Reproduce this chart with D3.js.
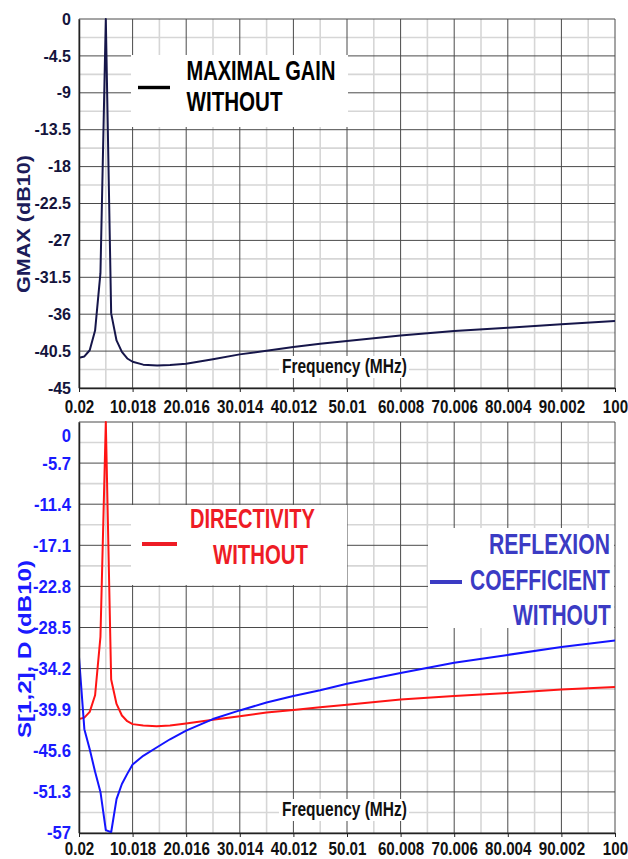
<!DOCTYPE html>
<html>
<head>
<meta charset="utf-8">
<script src="https://cdn.jsdelivr.net/npm/d3@7"></script>
<style>
  body { margin: 0; background: #fff; }
  text { font-family: "Liberation Sans", Arial, sans-serif; font-weight: bold; }
</style>
</head>
<body>
<script>
// frequency axis (MHz)
var xTickLabels = ["0.02", "10.018", "20.016", "30.014", "40.012", "50.01", "60.008", "70.006", "80.004", "90.002", "100"];

// upper panel: GMAX
var gmaxTickLabels = ["0", "-4.5", "-9", "-13.5", "-18", "-22.5", "-27", "-31.5", "-36", "-40.5", "-45"];
var gmaxFreq = [0.02, 1.02, 2.02, 3.02, 4.02, 5.02, 6.02, 7.02, 8.02, 9.02, 10.02, 12, 14.6, 17, 20, 25, 30, 35, 40, 45, 50, 60, 70, 80, 90, 100];
var gmaxDb = [-41.3, -41.15, -40.4, -38.0, -31.0, 0, -35.9, -39.2, -40.6, -41.4, -41.8, -42.15, -42.25, -42.2, -42.05, -41.5, -40.9, -40.45, -40.0, -39.6, -39.28, -38.6, -38.06, -37.65, -37.24, -36.84];

// lower panel: directivity and reflexion coefficient
var sTickLabels = ["0", "-5.7", "-11.4", "-17.1", "-22.8", "-28.5", "-34.2", "-39.9", "-45.6", "-51.3", "-57"];
var dirFreq = [0.02, 1.02, 2.02, 3.02, 4.02, 5.02, 6.02, 7.02, 8.02, 9.02, 10.02, 12, 14.5, 17, 20, 25, 30, 35, 40, 45, 50, 60, 70, 80, 90, 100];
var dirDb = [-41.2, -41.0, -40.2, -37.9, -29.8, 0, -35.7, -39.1, -40.7, -41.5, -41.9, -42.1, -42.2, -42.1, -41.8, -41.3, -40.8, -40.3, -39.95, -39.55, -39.2, -38.5, -38.0, -37.6, -37.1, -36.75];
var refFreq = [0.02, 1.02, 2.02, 3.02, 4.02, 5.02, 6.02, 7.02, 8.02, 9.02, 10.02, 12, 14.8, 17, 20, 25, 30, 35, 40, 45, 50, 60, 70, 80, 90, 100];
var refDb = [-32.6, -42.6, -45.4, -48.5, -51.3, -56.6, -56.9, -52.3, -50.2, -48.8, -47.5, -46.3, -45.0, -44.0, -42.8, -41.2, -40.0, -38.9, -38.0, -37.2, -36.3, -34.8, -33.4, -32.3, -31.2, -30.3];

var svg = d3.select("body").append("svg")
    .attr("width", 628)
    .attr("height", 859);

var xTicks = xTickLabels.map(Number);

function midpoints(arr) {
  var out = [];
  for (var i = 0; i < arr.length - 1; i++) out.push((arr[i] + arr[i + 1]) / 2);
  return out;
}

// squeeze a text horizontally to a given width (left edge at x)
function squeeze(sel, x, y, width) {
  var len = sel.node().getComputedTextLength();
  sel.attr("x", 0).attr("y", 0)
    .attr("transform", "translate(" + x + "," + y + ") scale(" + (width / len) + ",1)");
}

function drawPanel(p) {
  var x = d3.scaleLinear().domain([0.02, 100]).range([p.left, p.right]);
  var yTicks = p.yLabels.map(Number);
  var y = d3.scaleLinear().domain([0, yTicks[yTicks.length - 1]]).range([p.top, p.bottom]);
  var g = svg.append("g");

  // minor grid
  midpoints(xTicks).forEach(function(v) {
    g.append("line").attr("x1", x(v)).attr("x2", x(v)).attr("y1", p.top).attr("y2", p.bottom)
      .attr("stroke", "#d6d6d6").attr("stroke-width", 1.6);
  });
  midpoints(yTicks).forEach(function(v) {
    g.append("line").attr("x1", p.left).attr("x2", p.right).attr("y1", y(v)).attr("y2", y(v))
      .attr("stroke", "#d6d6d6").attr("stroke-width", 1.6);
  });
  // major grid
  xTicks.forEach(function(v) {
    g.append("line").attr("x1", x(v)).attr("x2", x(v)).attr("y1", p.top).attr("y2", p.bottom)
      .attr("stroke", "#4a4a4a").attr("stroke-width", 1);
  });
  yTicks.forEach(function(v) {
    g.append("line").attr("x1", p.left).attr("x2", p.right).attr("y1", y(v)).attr("y2", y(v))
      .attr("stroke", "#4a4a4a").attr("stroke-width", 1);
  });

  // white boxes of the legends sit on top of the grid
  p.legends.forEach(function(L) {
    g.append("rect").attr("x", L.box[0]).attr("y", L.box[1])
      .attr("width", L.box[2] - L.box[0]).attr("height", L.box[3] - L.box[1])
      .attr("fill", "#fff");
  });

  // frequency label with white background
  g.append("rect").attr("x", 279).attr("y", p.freqY - 17).attr("width", 130).attr("height", 22).attr("fill", "#fff");
  var ft = g.append("text").attr("font-size", 20).attr("fill", "#111").text("Frequency (MHz)");
  squeeze(ft, 282, p.freqY, 125);

  // curves
  var clipId = "clip" + p.top;
  svg.append("clipPath").attr("id", clipId).append("rect")
    .attr("x", p.left).attr("y", p.top - 1).attr("width", p.right - p.left).attr("height", p.bottom - p.top + 1);
  var line = d3.line().x(function(d) { return x(d[0]); }).y(function(d) { return y(d[1]); });
  p.series.forEach(function(s) {
    g.append("path")
      .datum(d3.zip(s.f, s.v))
      .attr("clip-path", "url(#" + clipId + ")")
      .attr("fill", "none")
      .attr("stroke", s.color)
      .attr("stroke-width", 2)
      .attr("stroke-linejoin", "round")
      .attr("d", line);
  });

  // axes
  var ax = g.append("g").attr("transform", "translate(" + p.left + ",0)")
    .call(d3.axisLeft(y).tickValues(yTicks).tickFormat(function(d, i) { return p.yLabels[i]; })
      .tickSize(0).tickSizeOuter(0).tickPadding(8));
  ax.select(".domain").attr("stroke", "#222").attr("stroke-width", 1.5);
  ax.selectAll("text")
    .attr("font-size", p.yFont).attr("fill", p.yColor)
    .attr("font-family", null)
    .attr("transform", "scale(" + p.yScaleX + ",1)")
    .attr("x", -8 / p.yScaleX);
  if (p.firstDy) ax.select(".tick text").attr("dy", p.firstDy);

  var bx = g.append("g").attr("transform", "translate(0," + p.bottom + ")")
    .call(d3.axisBottom(x).tickValues(xTicks).tickFormat(function(d, i) { return xTickLabels[i]; })
      .tickSize(4).tickSizeOuter(0).tickPadding(p.xPad));
  bx.select(".domain").attr("stroke", "#222").attr("stroke-width", 1.5);
  bx.selectAll(".tick line").attr("stroke", "#222");
  bx.selectAll("text")
    .attr("font-size", 18.5).attr("fill", "#111")
    .attr("font-family", null)
    .attr("transform", "scale(0.82,1)");

  // y title
  g.append("text")
    .attr("transform", "translate(" + p.titleX + "," + p.titleY + ") rotate(-90)")
    .attr("text-anchor", "middle")
    .attr("font-size", 19)
    .attr("textLength", p.titleLen).attr("lengthAdjust", "spacingAndGlyphs")
    .attr("fill", p.titleColor)
    .text(p.title);

  // legends
  p.legends.forEach(function(L) {
    g.append("line").attr("x1", L.line[0]).attr("x2", L.line[1]).attr("y1", L.line[2]).attr("y2", L.line[2])
      .attr("stroke", L.color).attr("stroke-width", L.lineW);
    L.rows.forEach(function(r) {
      var t = g.append("text")
        .attr("font-size", L.font)
        .attr("fill", L.color)
        .text(r[0]);
      squeeze(t, r[1], r[2], r[3]);
    });
  });
}

drawPanel({
  top: 19, bottom: 388, left: 79, right: 615,
  yLabels: gmaxTickLabels, yFont: 16, yScaleX: 1, yColor: "#14143c",
  xPad: 8, freqY: 373,
  title: "GMAX (dB10)", titleX: 30, titleY: 224, titleLen: 138, titleColor: "#1c1c5a",
  series: [{f: gmaxFreq, v: gmaxDb, color: "#16164a"}],
  legends: [{
    box: [131, 55, 348, 127], color: "#000", lineW: 3.4, line: [138, 170, 87.5], font: 27,
    rows: [["MAXIMAL GAIN", 186.5, 79.5, 149], ["WITHOUT", 186.5, 111, 96]]
  }]
});

drawPanel({
  top: 422, bottom: 833, left: 79, right: 615,
  yLabels: sTickLabels, yFont: 18.5, yScaleX: 0.9, yColor: "#1a1aff", firstDy: "1.05em",
  xPad: 5, freqY: 816,
  title: "S[1,2], D (dB10)", titleX: 31, titleY: 649, titleLen: 178, titleColor: "#1a1aff",
  series: [{f: dirFreq, v: dirDb, color: "#ff1414"}, {f: refFreq, v: refDb, color: "#1414ff"}],
  legends: [{
    box: [131, 505, 347, 585], color: "#ee1c25", lineW: 4, line: [142, 177, 544], font: 28,
    rows: [["DIRECTIVITY", 190, 528, 125], ["WITHOUT", 213, 564, 95]]
  }, {
    box: [428, 528, 614, 628], color: "#3b3bc4", lineW: 4, line: [430, 462, 582], font: 29,
    rows: [["REFLEXION", 489, 554, 121], ["COEFFICIENT", 470, 590, 140], ["WITHOUT", 513, 625, 98]]
  }]
});
</script>
</body>
</html>
